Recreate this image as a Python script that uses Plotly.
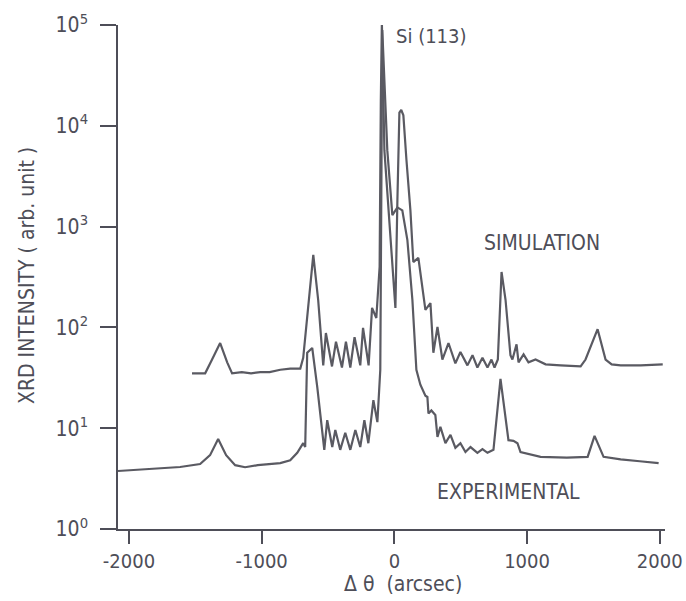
import plotly.graph_objects as go

# Simulation curve (delta theta in arcsec, intensity arb. unit)
sim_x = [-1525, -1426, -1374, -1313, -1260, -1223, -1150, -1080, -1011, -940, -860, -785, -709, -687,
         -611, -574, -536,
         -516, -470, -440, -395, -365, -332, -300, -257, -236, -194, -168, -136, -111, -102, -94,
         -75, 8, 23, 38, 52, 68, 91, 121, 143, 181, 234, 272, 294, 325, 362, 408, 460, 498, 551,
         589, 626, 664, 702, 732, 755, 780, 808, 838, 875, 890, 921, 936, 974, 1011, 1064, 1140,
         1253, 1404, 1441, 1532, 1592, 1638, 1706, 1857, 2023]
sim_y = [35, 35, 48, 70, 45, 35, 36, 35, 36, 36, 38, 39, 39, 50,
         523, 186, 42,
         88, 41, 72, 40, 72, 40, 80, 42, 99, 42, 156, 124, 400, 18000, 105000,
         5700, 156, 1830, 13500, 14350, 12700, 4600, 1450, 445, 490, 149, 174, 56, 101, 48, 70, 44, 57, 42,
         53, 40, 50, 40, 48, 40, 48, 355, 188, 53, 48, 68, 45, 54, 45, 48, 43,
         42, 41, 48, 96, 48, 43, 42, 42, 43]

# Experimental curve
exp_x = [-2083, -1841, -1615, -1464, -1389, -1328, -1268, -1200, -1125, -1030, -936, -860, -785, -732,
         -687, -672, -657, -619, -581, -543, -528, -506, -468, -445, -408, -370, -332, -294, -257,
         -226, -196, -158, -128, -106, -91, -53, -15, 23, 60, 98, 136, 166, 196, 234, 249, 257,
         279, 309, 325, 347, 385, 423, 460, 498, 536, 574, 626, 664, 702, 747, 800, 860, 898,
         928, 951, 1102, 1300, 1457, 1509, 1577, 1706, 1850, 1992]
exp_y = [3.76, 3.94, 4.12, 4.41, 5.4, 7.8, 5.4, 4.3, 4.1, 4.3, 4.4, 4.5, 4.8, 5.7,
         7.1, 6.5, 56, 62.5, 25.6, 9.6, 6.1, 12, 6.5, 9.6, 6.1, 9.0, 6.1, 9.6, 6.5,
         12, 7.1, 19, 11.5, 38, 89000, 5700, 1300, 1550, 1450, 740, 187, 38, 27, 21, 20.4, 14,
         15, 13.5, 8.2, 10.3, 7.1, 8.6, 6.4, 7.1, 5.8, 6.5, 5.7, 6.2, 5.7, 6.1, 30.8, 7.6, 7.5,
         7.1, 5.8, 5.2, 5.1, 5.2, 8.4, 5.2, 4.9, 4.7, 4.5]

x_ticks = [-2000, -1000, 0, 1000, 2000]
x_ticktext = ["-2000", "-1000", "0", "1000", "2000"]
y_ticks = [1, 10, 100, 1000, 10000, 100000]
y_ticktext = ["10<sup>0</sup>", "10<sup>1</sup>", "10<sup>2</sup>", "10<sup>3</sup>",
              "10<sup>4</sup>", "10<sup>5</sup>"]

INK = "#4e4e58"
LINE = "#5a5a62"
FONT = "Liberation Sans Narrow, DejaVu Sans Condensed, Arial Narrow, sans-serif"

W, H = 686, 601
L, R, T, B = 118, 21, 25, 72

fig = go.Figure()
fig.add_trace(go.Scatter(x=sim_x, y=sim_y, mode="lines", name="SIMULATION",
                         line=dict(color=LINE, width=2.2)))
fig.add_trace(go.Scatter(x=exp_x, y=exp_y, mode="lines", name="EXPERIMENTAL",
                         line=dict(color=LINE, width=2.2)))

fig.update_layout(
    width=W, height=H,
    margin=dict(l=L, r=R, t=T, b=B, autoexpand=False),
    plot_bgcolor="white", paper_bgcolor="white",
    showlegend=False,
    font=dict(family=FONT, color=INK, size=21),
    xaxis=dict(range=[-2083, 2040], showgrid=False, zeroline=False, automargin=False,
               showline=True, linecolor=INK, linewidth=1.5,
               ticks="outside", ticklen=13, tickwidth=1.5, tickcolor=INK,
               tickvals=x_ticks, ticktext=x_ticktext, tickfont=dict(size=20)),
    yaxis=dict(type="log", range=[0, 5], showgrid=False, zeroline=False, automargin=False,
               showline=True, linecolor=INK, linewidth=1.5,
               ticks="outside", ticklen=16, tickwidth=1.5, tickcolor=INK,
               ticklabelstandoff=8,
               tickvals=y_ticks, ticktext=y_ticktext, tickfont=dict(size=21)),
)

pw, ph = W - L - R, H - T - B

def px(xp):
    return (xp - L) / pw

def py(yp):
    return 1 - (yp - T) / ph

fig.add_annotation(text="Si (113)", x=px(394), y=py(36), xref="paper", yref="paper",
                   xanchor="left", yanchor="middle", showarrow=False, font=dict(size=20))
fig.add_annotation(text="SIMULATION", x=px(542), y=py(243), xref="paper", yref="paper",
                   xanchor="center", yanchor="middle", showarrow=False, font=dict(size=21))
fig.add_annotation(text="EXPERIMENTAL", x=px(508), y=py(492), xref="paper", yref="paper",
                   xanchor="center", yanchor="middle", showarrow=False, font=dict(size=21))
fig.add_annotation(text="XRD INTENSITY ( arb. unit )", x=px(27), y=py(276), xref="paper",
                   yref="paper", xanchor="center", yanchor="middle", textangle=-90,
                   showarrow=False, font=dict(size=21))
fig.add_annotation(text="Δ θ  (arcsec)", x=px(403), y=py(584), xref="paper", yref="paper",
                   xanchor="center", yanchor="middle", showarrow=False, font=dict(size=21))

fig.write_html("out.html")
